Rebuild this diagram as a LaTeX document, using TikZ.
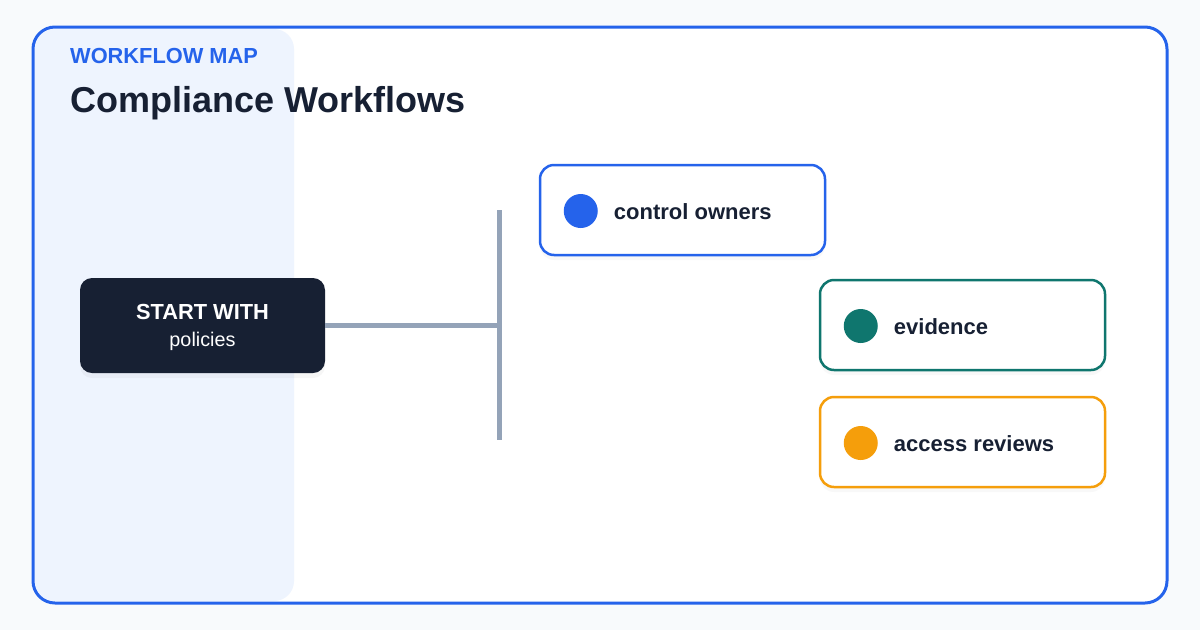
\documentclass[tikz,border=0pt]{standalone}
\usepackage{fontspec}
\setmainfont{Liberation Sans}
\usepackage{xcolor}
\usetikzlibrary{positioning, calc, shadows}

\definecolor{pagebg}{HTML}{F8FAFC}
\definecolor{framblue}{HTML}{2563EB}
\definecolor{panelbg}{HTML}{EEF4FE}
\definecolor{inkdark}{HTML}{172033}
\definecolor{barcol}{HTML}{94A3B8}
\definecolor{tealcol}{HTML}{0F766E}
\definecolor{ambercol}{HTML}{F59E0B}

\tikzset{
    card/.style={draw, line width=2.5pt, fill=white, rounded corners=14pt,
        minimum width=285pt, minimum height=90pt,
        drop shadow={shadow xshift=0pt, shadow yshift=-5pt, opacity=0.05}},
    startbox/.style={fill=inkdark, rounded corners=12pt, align=center,
        minimum width=245pt, minimum height=95pt, text=white,
        drop shadow={shadow xshift=0pt, shadow yshift=-5pt, opacity=0.07}},
    cardlabel/.style={anchor=west, text=inkdark, font=\fontsize{22}{26}\selectfont\bfseries},
    branch/.style={line width=5pt, draw=barcol}
}

\begin{document}
\begin{tikzpicture}[x=1pt, y=-1pt]
% page and frame
\fill[pagebg] (0,0) rectangle (1200,630);
\useasboundingbox (0,0) rectangle (1200,630);
\fill[white, rounded corners=22pt] (33,27) rectangle (1167,603);
\fill[panelbg, rounded corners=20pt] (35,29) rectangle (294,601);
\draw[framblue, line width=3pt, rounded corners=22pt] (33,27) rectangle (1167,603);

% titles
\node[anchor=base west, inner sep=0pt, text=framblue,
    font=\fontsize{21.8}{26}\selectfont\bfseries] (kicker) at (70,63) {WORKFLOW MAP};
\node[anchor=base west, inner sep=0pt, text=inkdark,
    font=\fontsize{36}{42}\selectfont\bfseries] (title) at (70,112) {Compliance Workflows};

% start node
\node[startbox] (start) at (202.5,325.5) {};
\node[text=white, font=\fontsize{21.8}{26}\selectfont\bfseries] (starthead)
    at ($(start.center)+(0,-14)$) {START WITH};
\node[text=white, font=\fontsize{19.8}{24}\selectfont] (startsub)
    at ($(start.center)+(0,16)$) {policies};

% trunk and bar
\coordinate (bartop) at (499,210);
\coordinate (barbot) at (499,440);
\coordinate (barmid) at (499,325);
\draw[branch] (start.east |- barmid) -- (barmid);
\draw[branch] (bartop) -- (barbot);

% workflow cards
\foreach \name/\x/\y/\col/\txt in {
    owners/682.5/210/framblue/control owners,
    evidence/962.5/325/tealcol/evidence,
    reviews/962.5/442/ambercol/access reviews
} {
    \node[card, draw=\col] (\name) at (\x,\y) {};
    \node[circle, fill=\col, minimum size=34pt, inner sep=0pt]
        (\name dot) at ($(\name.west)+(42,1)$) {};
    \node[cardlabel, inner sep=0pt] (\name txt) at ($(\name.west)+(75,1.5)$) {\txt};
}
\end{tikzpicture}
\end{document}
